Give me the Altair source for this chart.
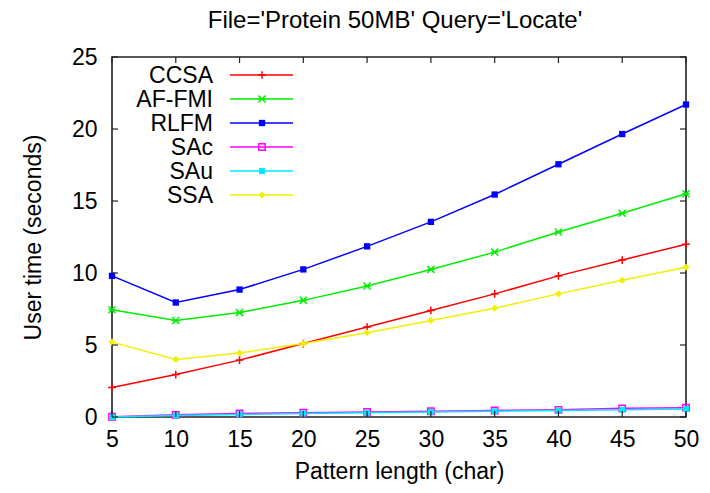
import altair as alt
import pandas as pd

# Pattern lengths (x) and user time in seconds for each index
pattern_len = [5, 10, 15, 20, 25, 30, 35, 40, 45, 50]
ccsa = [2.05, 2.95, 3.95, 5.1, 6.25, 7.4, 8.55, 9.8, 10.9, 12.0]
af_fmi = [7.45, 6.7, 7.25, 8.1, 9.1, 10.25, 11.45, 12.85, 14.15, 15.5]
rlfm = [9.8, 7.95, 8.85, 10.25, 11.85, 13.55, 15.45, 17.55, 19.65, 21.7]
sac = [0.02, 0.15, 0.25, 0.3, 0.35, 0.4, 0.45, 0.5, 0.6, 0.65]
sau = [0.0, 0.1, 0.18, 0.25, 0.3, 0.35, 0.4, 0.45, 0.5, 0.55]
ssa = [5.2, 4.0, 4.45, 5.1, 5.85, 6.7, 7.55, 8.55, 9.5, 10.4]

series_names = ["CCSA", "AF-FMI", "RLFM", "SAc", "SAu", "SSA"]
series_values = [ccsa, af_fmi, rlfm, sac, sau, ssa]
x_ticks = [5, 10, 15, 20, 25, 30, 35, 40, 45, 50]
y_ticks = [0, 5, 10, 15, 20, 25]

FONT = "Liberation Sans"
FS = 23
W, H = 574, 360

# gnuplot-like point styles: (colour, shape, filled, size)
PLUS = "M-1,0L1,0M0,-1L0,1"
XMARK = "M-1,-1L1,1M-1,1L1,-1M-1,0L1,0"
styles = {
    "CCSA": ("#ff0000", PLUS, False, 60),
    "AF-FMI": ("#00ee00", XMARK, False, 50),
    "RLFM": ("#0000ff", "square", True, 40),
    "SAc": ("#ff00ff", "square", False, 40),
    "SAu": ("#00e8ff", "square", True, 35),
    "SSA": ("#f0f000", "diamond", True, 50),
}

x_scale = alt.Scale(domain=[5, 50], nice=False, zero=False)
y_scale = alt.Scale(domain=[0, 25], nice=False)

x_axis = alt.Axis(values=x_ticks, title="Pattern length (char)", grid=False,
                  ticks=False, domain=False, labelFontSize=FS, labelFont=FONT,
                  labelColor="black", labelPadding=11, titleFontSize=FS,
                  titleFont=FONT, titleFontWeight="normal", titleColor="black",
                  titleY=61, titleBaseline="alphabetic", labelFlush=False)
y_axis = alt.Axis(values=y_ticks, title="User time (seconds)", grid=False,
                  ticks=False, domain=False, labelFontSize=FS, labelFont=FONT,
                  labelColor="black", labelPadding=15, titleFontSize=FS,
                  titleFont=FONT, titleFontWeight="normal", titleColor="black",
                  titlePadding=26, labelFlush=False)

layers = []
for i, (name, vals) in enumerate(zip(series_names, series_values)):
    color, shape, filled, size = styles[name]
    df = pd.DataFrame({"x": pattern_len, "y": vals, "series": name})
    base = alt.Chart(df)
    enc_x = alt.X("x:Q", scale=x_scale, axis=x_axis)
    enc_y = alt.Y("y:Q", scale=y_scale, axis=y_axis)
    layers.append(base.mark_line(color=color, strokeWidth=1.5).encode(x=enc_x, y=enc_y))
    layers.append(base.mark_point(color=color, shape=shape, filled=filled,
                                  size=size, strokeWidth=1.5, opacity=1)
                  .encode(x=enc_x, y=enc_y))

    # key entry inside the plot, top-left
    ly = 18 + 24 * i
    kdf = pd.DataFrame({"series": [name]})
    kbase = alt.Chart(kdf)
    layers.append(kbase.mark_text(align="right", baseline="middle", font=FONT,
                                  fontSize=FS, color="black")
                  .encode(text="series:N", x=alt.value(101), y=alt.value(ly + 1)))
    layers.append(kbase.mark_rule(color=color, strokeWidth=1.5)
                  .encode(x=alt.value(118), x2=alt.value(181), y=alt.value(ly)))
    layers.append(kbase.mark_point(color=color, shape=shape, filled=filled,
                                   size=size, strokeWidth=1.5, opacity=1)
                  .encode(x=alt.value(150), y=alt.value(ly)))

# inward tick marks on all four sides
xt = alt.Chart(pd.DataFrame({"x": x_ticks}))
yt = alt.Chart(pd.DataFrame({"y": y_ticks}))
tick_style = dict(color="#222", strokeWidth=1.2)
layers.append(xt.mark_rule(**tick_style).encode(
    x=alt.X("x:Q", scale=x_scale, axis=x_axis), y=alt.value(H), y2=alt.value(H - 6)))
layers.append(xt.mark_rule(**tick_style).encode(
    x=alt.X("x:Q", scale=x_scale, axis=x_axis), y=alt.value(0), y2=alt.value(6)))
layers.append(yt.mark_rule(**tick_style).encode(
    y=alt.Y("y:Q", scale=y_scale, axis=y_axis), x=alt.value(0), x2=alt.value(6)))
layers.append(yt.mark_rule(**tick_style).encode(
    y=alt.Y("y:Q", scale=y_scale, axis=y_axis), x=alt.value(W), x2=alt.value(W - 6)))

chart = alt.layer(*layers).properties(
    width=W,
    height=H,
    background="white",
    autosize=alt.AutoSizeParams(type="none"),
    padding={"left": 112, "top": 57, "right": 24, "bottom": 76},
    title=alt.TitleParams("File='Protein 50MB' Query='Locate'", font=FONT,
                          fontSize=24, fontWeight="normal", color="black",
                          anchor="middle", offset=13, dx=-4),
).configure_view(
    stroke="#222", strokeWidth=1.6
).configure_axis(
    titleFontWeight="normal"
)

chart.save("out.html", embed_options={"renderer": "svg", "actions": False})
